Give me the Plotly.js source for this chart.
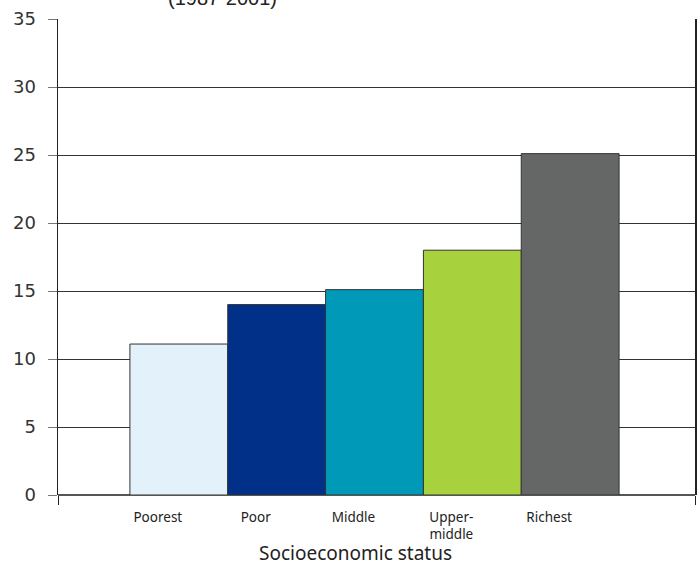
<!DOCTYPE html>
<html><head><meta charset="utf-8">
<script src="https://cdn.plot.ly/plotly-3.0.1.min.js"></script>
<style>html,body{margin:0;padding:0;background:#fff}#chart{width:700px;height:572px}</style>
</head><body><div id="chart"></div>
<script>
const categories = ["Poorest", "Poor", "Middle", "Upper-middle", "Richest"];
const tickLabels = ["Poorest", "Poor", "Middle", "Upper-<br>middle", "Richest"];
const values = [11.1, 14.0, 15.1, 18.0, 25.1];
const colors = ["#e3f1fb", "#003087", "#0099b7", "#a7d23e", "#656766"];
const yTicks = [0, 5, 10, 15, 20, 25, 30, 35];
const titleText = "(1987-2001)";
const xTitle = "Socioeconomic status";

const xr = [-1.235, 5.276];
const trace = {
  type: "bar",
  x: categories.map((c, i) => i),
  y: values,
  marker: {color: colors, line: {color: "#333", width: 1}},
  width: 1,
  hoverinfo: "skip"
};
const edgeTrace = {type: "scatter", x: xr, y: [0, 0], xaxis: "x2", mode: "none", hoverinfo: "skip", showlegend: false};

const layout = {
  width: 700, height: 572,
  margin: {l: 58, r: 5, t: 19, b: 77},
  paper_bgcolor: "#fff", plot_bgcolor: "#fff",
  showlegend: false,
  bargap: 0,
  xaxis: {
    range: xr, tickmode: "array", tickvals: categories.map((c, i) => i), ticktext: tickLabels,
    ticks: "", ticklabelshift: -21, ticklabelstandoff: 12,
    tickfont: {family: "Noto Sans, sans-serif", size: 13.5, color: "#222"},
    showgrid: false, zeroline: false, showline: false, fixedrange: true
  },
  xaxis2: {
    overlaying: "x", side: "bottom", range: xr, tickmode: "array", tickvals: xr, ticktext: ["", ""],
    ticks: "outside", ticklen: 9, tickcolor: "#222", tickwidth: 1,
    showgrid: false, zeroline: false, showline: false, fixedrange: true
  },
  yaxis: {
    range: [0, 35], tickmode: "array", tickvals: yTicks,
    ticks: "outside", ticklen: 9, tickcolor: "#777", tickwidth: 1,
    tickfont: {family: "DejaVu Sans, sans-serif", size: 18, color: "#333"},
    ticklabelstandoff: 8,
    showgrid: true, gridcolor: "#333", gridwidth: 1,
    zeroline: true, zerolinecolor: "#555", zerolinewidth: 2,
    showline: true, linecolor: "#222", linewidth: 1.5, mirror: true, fixedrange: true
  },
  annotations: [{
    text: titleText, xref: "paper", yref: "paper", x: (222-58)/637, y: 1, yshift: 21,
    xanchor: "center", yanchor: "middle", showarrow: false,
    font: {family: "Liberation Sans, Arial, sans-serif", size: 20, color: "#222"}
  }, {
    text: xTitle, xref: "paper", yref: "paper", x: (355-58)/637, y: 0, yshift: -58,
    xanchor: "center", yanchor: "middle", showarrow: false,
    font: {family: "Noto Sans, sans-serif", size: 19, color: "#222"}
  }]
};
Plotly.newPlot("chart", [trace, edgeTrace], layout, {displayModeBar: false, staticPlot: true});
</script></body></html>
